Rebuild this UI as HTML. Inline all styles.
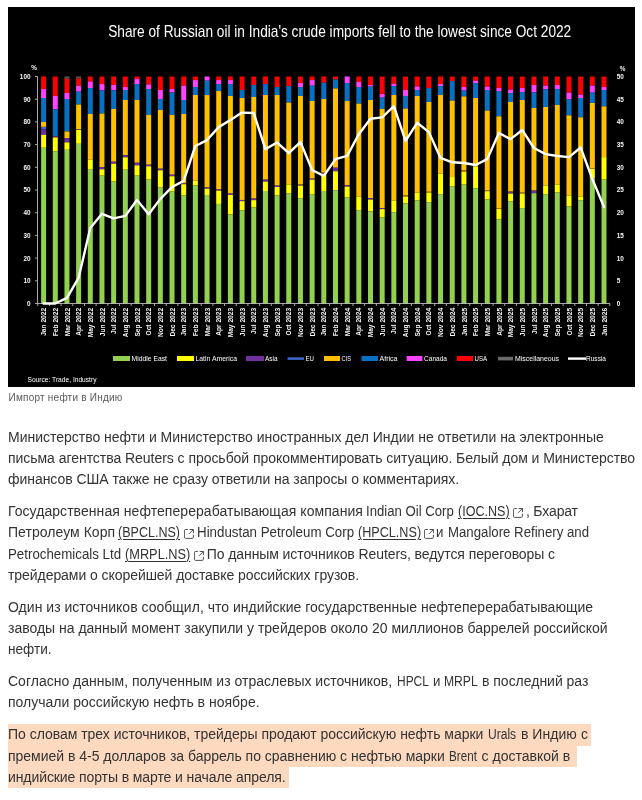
<!DOCTYPE html>
<html lang="ru">
<head>
<meta charset="utf-8">
<title>Импорт нефти в Индию</title>
<style>
html,body{margin:0;padding:0;background:#fff;}
body{width:642px;height:800px;overflow:hidden;position:relative;font-family:"Liberation Sans",sans-serif;color:#2a2a2a;}
.cap{position:absolute;left:8.6px;top:391px;font-size:10px;letter-spacing:0.22px;color:#5a5a5a;line-height:14px;white-space:nowrap;}
.s{position:absolute;font-size:14px;line-height:21.4px;white-space:nowrap;color:#333;text-decoration:none;transform-origin:0 50%;}
.a{text-decoration:underline;text-underline-offset:2px;text-decoration-thickness:1px;}
.hlb{position:absolute;background:#fcd9bf;}
.ext{position:absolute;display:block;}
</style>
</head>
<body>
<svg width="627" height="380" viewBox="8 7 627 380" style="position:absolute;left:8px;top:7px;display:block">
<rect x="8" y="7" width="627" height="380" fill="#000"/>
<rect x="41.10" y="76.50" width="5.00" height="12.54" fill="#fa0000"/>
<rect x="41.10" y="89.04" width="5.00" height="8.96" fill="#ff44ff"/>
<rect x="41.10" y="98.01" width="5.00" height="23.89" fill="#0870c0"/>
<rect x="41.10" y="121.90" width="5.00" height="4.98" fill="#ffc000"/>
<rect x="41.10" y="126.88" width="5.00" height="2.39" fill="#3a66c8"/>
<rect x="41.10" y="129.27" width="5.00" height="5.58" fill="#7030a0"/>
<rect x="41.10" y="134.84" width="5.00" height="12.94" fill="#ffff00"/>
<rect x="41.10" y="147.79" width="5.00" height="155.71" fill="#92d050"/>
<rect x="52.78" y="76.50" width="5.00" height="19.51" fill="#fa0000"/>
<rect x="52.78" y="96.01" width="5.00" height="13.34" fill="#ff44ff"/>
<rect x="52.78" y="109.36" width="5.00" height="26.88" fill="#0870c0"/>
<rect x="52.78" y="136.24" width="5.00" height="1.19" fill="#7030a0"/>
<rect x="52.78" y="137.43" width="5.00" height="13.74" fill="#ffff00"/>
<rect x="52.78" y="151.17" width="5.00" height="152.33" fill="#92d050"/>
<rect x="64.45" y="76.50" width="5.00" height="2.19" fill="#5a5a5a"/>
<rect x="64.45" y="78.69" width="5.00" height="14.34" fill="#fa0000"/>
<rect x="64.45" y="93.03" width="5.00" height="5.97" fill="#ff44ff"/>
<rect x="64.45" y="99.00" width="5.00" height="32.46" fill="#0870c0"/>
<rect x="64.45" y="131.46" width="5.00" height="6.77" fill="#ffc000"/>
<rect x="64.45" y="138.23" width="5.00" height="4.18" fill="#7030a0"/>
<rect x="64.45" y="142.41" width="5.00" height="7.37" fill="#ffff00"/>
<rect x="64.45" y="149.78" width="5.00" height="153.72" fill="#92d050"/>
<rect x="76.12" y="76.50" width="5.00" height="1.79" fill="#5a5a5a"/>
<rect x="76.12" y="78.29" width="5.00" height="7.37" fill="#fa0000"/>
<rect x="76.12" y="85.66" width="5.00" height="5.97" fill="#ff44ff"/>
<rect x="76.12" y="91.63" width="5.00" height="12.94" fill="#0870c0"/>
<rect x="76.12" y="104.58" width="5.00" height="24.49" fill="#ffc000"/>
<rect x="76.12" y="129.07" width="5.00" height="0.80" fill="#7030a0"/>
<rect x="76.12" y="129.86" width="5.00" height="13.94" fill="#ffff00"/>
<rect x="76.12" y="143.80" width="5.00" height="159.70" fill="#92d050"/>
<rect x="87.80" y="76.50" width="5.00" height="4.98" fill="#fa0000"/>
<rect x="87.80" y="81.48" width="5.00" height="6.57" fill="#ff44ff"/>
<rect x="87.80" y="88.05" width="5.00" height="25.89" fill="#0870c0"/>
<rect x="87.80" y="113.94" width="5.00" height="45.80" fill="#ffc000"/>
<rect x="87.80" y="159.73" width="5.00" height="9.36" fill="#ffff00"/>
<rect x="87.80" y="169.09" width="5.00" height="134.41" fill="#92d050"/>
<rect x="99.47" y="76.50" width="5.00" height="7.57" fill="#fa0000"/>
<rect x="99.47" y="84.07" width="5.00" height="6.37" fill="#ff44ff"/>
<rect x="99.47" y="90.44" width="5.00" height="23.10" fill="#0870c0"/>
<rect x="99.47" y="113.54" width="5.00" height="53.56" fill="#ffc000"/>
<rect x="99.47" y="167.10" width="5.00" height="2.19" fill="#7030a0"/>
<rect x="99.47" y="169.29" width="5.00" height="6.37" fill="#ffff00"/>
<rect x="99.47" y="175.66" width="5.00" height="127.84" fill="#92d050"/>
<rect x="111.15" y="76.50" width="5.00" height="8.56" fill="#fa0000"/>
<rect x="111.15" y="85.06" width="5.00" height="5.38" fill="#ff44ff"/>
<rect x="111.15" y="90.44" width="5.00" height="18.52" fill="#0870c0"/>
<rect x="111.15" y="108.96" width="5.00" height="52.77" fill="#ffc000"/>
<rect x="111.15" y="161.72" width="5.00" height="1.99" fill="#7030a0"/>
<rect x="111.15" y="163.72" width="5.00" height="17.92" fill="#ffff00"/>
<rect x="111.15" y="181.64" width="5.00" height="121.86" fill="#92d050"/>
<rect x="122.83" y="76.50" width="5.00" height="10.55" fill="#fa0000"/>
<rect x="122.83" y="87.05" width="5.00" height="2.99" fill="#ff44ff"/>
<rect x="122.83" y="90.04" width="5.00" height="9.96" fill="#0870c0"/>
<rect x="122.83" y="100.00" width="5.00" height="55.16" fill="#ffc000"/>
<rect x="122.83" y="155.15" width="5.00" height="2.19" fill="#7030a0"/>
<rect x="122.83" y="157.34" width="5.00" height="12.35" fill="#ffff00"/>
<rect x="122.83" y="169.69" width="5.00" height="133.81" fill="#92d050"/>
<rect x="134.50" y="76.50" width="5.00" height="2.59" fill="#fa0000"/>
<rect x="134.50" y="79.09" width="5.00" height="4.98" fill="#ff44ff"/>
<rect x="134.50" y="84.07" width="5.00" height="15.93" fill="#0870c0"/>
<rect x="134.50" y="100.00" width="5.00" height="62.72" fill="#ffc000"/>
<rect x="134.50" y="162.72" width="5.00" height="2.59" fill="#7030a0"/>
<rect x="134.50" y="165.31" width="5.00" height="10.35" fill="#ffff00"/>
<rect x="134.50" y="175.66" width="5.00" height="127.84" fill="#92d050"/>
<rect x="146.18" y="76.50" width="5.00" height="7.96" fill="#fa0000"/>
<rect x="146.18" y="84.46" width="5.00" height="4.58" fill="#ff44ff"/>
<rect x="146.18" y="89.04" width="5.00" height="25.89" fill="#0870c0"/>
<rect x="146.18" y="114.93" width="5.00" height="49.78" fill="#ffc000"/>
<rect x="146.18" y="164.71" width="5.00" height="1.59" fill="#7030a0"/>
<rect x="146.18" y="166.30" width="5.00" height="13.34" fill="#ffff00"/>
<rect x="146.18" y="179.65" width="5.00" height="123.85" fill="#92d050"/>
<rect x="157.85" y="76.50" width="5.00" height="13.54" fill="#fa0000"/>
<rect x="157.85" y="90.04" width="5.00" height="8.96" fill="#ff44ff"/>
<rect x="157.85" y="99.00" width="5.00" height="10.95" fill="#0870c0"/>
<rect x="157.85" y="109.95" width="5.00" height="58.74" fill="#ffc000"/>
<rect x="157.85" y="168.69" width="5.00" height="1.59" fill="#7030a0"/>
<rect x="157.85" y="170.29" width="5.00" height="17.32" fill="#ffff00"/>
<rect x="157.85" y="187.61" width="5.00" height="115.89" fill="#92d050"/>
<rect x="169.53" y="76.50" width="5.00" height="12.54" fill="#fa0000"/>
<rect x="169.53" y="89.04" width="5.00" height="3.39" fill="#ff44ff"/>
<rect x="169.53" y="92.43" width="5.00" height="22.50" fill="#0870c0"/>
<rect x="169.53" y="114.93" width="5.00" height="59.74" fill="#ffc000"/>
<rect x="169.53" y="174.67" width="5.00" height="1.59" fill="#7030a0"/>
<rect x="169.53" y="176.26" width="5.00" height="15.33" fill="#ffff00"/>
<rect x="169.53" y="191.59" width="5.00" height="111.91" fill="#92d050"/>
<rect x="181.20" y="76.50" width="5.00" height="9.16" fill="#fa0000"/>
<rect x="181.20" y="85.66" width="5.00" height="14.34" fill="#ff44ff"/>
<rect x="181.20" y="100.00" width="5.00" height="13.94" fill="#0870c0"/>
<rect x="181.20" y="113.94" width="5.00" height="69.49" fill="#ffc000"/>
<rect x="181.20" y="183.43" width="5.00" height="0.80" fill="#7030a0"/>
<rect x="181.20" y="184.23" width="5.00" height="11.35" fill="#ffff00"/>
<rect x="181.20" y="195.58" width="5.00" height="107.92" fill="#92d050"/>
<rect x="192.88" y="76.50" width="5.00" height="3.58" fill="#fa0000"/>
<rect x="192.88" y="80.08" width="5.00" height="6.97" fill="#ff44ff"/>
<rect x="192.88" y="87.05" width="5.00" height="7.96" fill="#0870c0"/>
<rect x="192.88" y="95.02" width="5.00" height="85.62" fill="#ffc000"/>
<rect x="192.88" y="180.64" width="5.00" height="4.98" fill="#ffff00"/>
<rect x="192.88" y="185.62" width="5.00" height="117.88" fill="#92d050"/>
<rect x="204.55" y="76.50" width="5.00" height="4.18" fill="#ff44ff"/>
<rect x="204.55" y="80.68" width="5.00" height="14.34" fill="#0870c0"/>
<rect x="204.55" y="95.02" width="5.00" height="92.39" fill="#ffc000"/>
<rect x="204.55" y="187.41" width="5.00" height="1.19" fill="#7030a0"/>
<rect x="204.55" y="188.61" width="5.00" height="6.37" fill="#ffff00"/>
<rect x="204.55" y="194.98" width="5.00" height="108.52" fill="#92d050"/>
<rect x="216.22" y="76.50" width="5.00" height="3.58" fill="#fa0000"/>
<rect x="216.22" y="80.08" width="5.00" height="3.98" fill="#ff44ff"/>
<rect x="216.22" y="84.07" width="5.00" height="6.97" fill="#0870c0"/>
<rect x="216.22" y="91.04" width="5.00" height="98.37" fill="#ffc000"/>
<rect x="216.22" y="189.40" width="5.00" height="1.19" fill="#7030a0"/>
<rect x="216.22" y="190.60" width="5.00" height="13.34" fill="#ffff00"/>
<rect x="216.22" y="203.94" width="5.00" height="99.56" fill="#92d050"/>
<rect x="227.90" y="76.50" width="5.00" height="3.58" fill="#fa0000"/>
<rect x="227.90" y="80.08" width="5.00" height="3.98" fill="#ff44ff"/>
<rect x="227.90" y="84.07" width="5.00" height="11.95" fill="#0870c0"/>
<rect x="227.90" y="96.01" width="5.00" height="97.57" fill="#ffc000"/>
<rect x="227.90" y="193.58" width="5.00" height="1.39" fill="#7030a0"/>
<rect x="227.90" y="194.98" width="5.00" height="19.51" fill="#ffff00"/>
<rect x="227.90" y="214.49" width="5.00" height="89.01" fill="#92d050"/>
<rect x="239.58" y="76.50" width="5.00" height="13.54" fill="#fa0000"/>
<rect x="239.58" y="90.04" width="5.00" height="7.96" fill="#0870c0"/>
<rect x="239.58" y="98.01" width="5.00" height="101.95" fill="#ffc000"/>
<rect x="239.58" y="199.96" width="5.00" height="1.19" fill="#7030a0"/>
<rect x="239.58" y="201.15" width="5.00" height="9.36" fill="#ffff00"/>
<rect x="239.58" y="210.51" width="5.00" height="92.99" fill="#92d050"/>
<rect x="251.25" y="76.50" width="5.00" height="8.56" fill="#fa0000"/>
<rect x="251.25" y="85.06" width="5.00" height="11.95" fill="#0870c0"/>
<rect x="251.25" y="97.01" width="5.00" height="101.55" fill="#ffc000"/>
<rect x="251.25" y="198.56" width="5.00" height="1.59" fill="#7030a0"/>
<rect x="251.25" y="200.16" width="5.00" height="7.37" fill="#ffff00"/>
<rect x="251.25" y="207.52" width="5.00" height="95.98" fill="#92d050"/>
<rect x="262.93" y="76.50" width="5.00" height="7.57" fill="#fa0000"/>
<rect x="262.93" y="84.07" width="5.00" height="10.95" fill="#0870c0"/>
<rect x="262.93" y="95.02" width="5.00" height="84.63" fill="#ffc000"/>
<rect x="262.93" y="179.65" width="5.00" height="1.99" fill="#7030a0"/>
<rect x="262.93" y="181.64" width="5.00" height="9.36" fill="#ffff00"/>
<rect x="262.93" y="191.00" width="5.00" height="112.50" fill="#92d050"/>
<rect x="274.60" y="76.50" width="5.00" height="10.55" fill="#fa0000"/>
<rect x="274.60" y="87.05" width="5.00" height="7.96" fill="#0870c0"/>
<rect x="274.60" y="95.02" width="5.00" height="90.60" fill="#ffc000"/>
<rect x="274.60" y="185.62" width="5.00" height="1.39" fill="#7030a0"/>
<rect x="274.60" y="187.01" width="5.00" height="8.56" fill="#ffff00"/>
<rect x="274.60" y="195.58" width="5.00" height="107.92" fill="#92d050"/>
<rect x="286.28" y="76.50" width="5.00" height="9.56" fill="#fa0000"/>
<rect x="286.28" y="86.06" width="5.00" height="16.53" fill="#0870c0"/>
<rect x="286.28" y="102.59" width="5.00" height="82.04" fill="#ffc000"/>
<rect x="286.28" y="184.62" width="5.00" height="8.96" fill="#ffff00"/>
<rect x="286.28" y="193.58" width="5.00" height="109.92" fill="#92d050"/>
<rect x="297.95" y="76.50" width="5.00" height="6.57" fill="#fa0000"/>
<rect x="297.95" y="83.07" width="5.00" height="3.98" fill="#ff44ff"/>
<rect x="297.95" y="87.05" width="5.00" height="8.96" fill="#0870c0"/>
<rect x="297.95" y="96.01" width="5.00" height="88.61" fill="#ffc000"/>
<rect x="297.95" y="184.62" width="5.00" height="1.00" fill="#7030a0"/>
<rect x="297.95" y="185.62" width="5.00" height="12.54" fill="#ffff00"/>
<rect x="297.95" y="198.16" width="5.00" height="105.34" fill="#92d050"/>
<rect x="309.63" y="76.50" width="5.00" height="3.58" fill="#fa0000"/>
<rect x="309.63" y="80.08" width="5.00" height="5.58" fill="#ff44ff"/>
<rect x="309.63" y="85.66" width="5.00" height="15.33" fill="#0870c0"/>
<rect x="309.63" y="100.99" width="5.00" height="77.66" fill="#ffc000"/>
<rect x="309.63" y="178.65" width="5.00" height="1.00" fill="#7030a0"/>
<rect x="309.63" y="179.65" width="5.00" height="14.93" fill="#ffff00"/>
<rect x="309.63" y="194.58" width="5.00" height="108.92" fill="#92d050"/>
<rect x="321.30" y="76.50" width="5.00" height="6.17" fill="#fa0000"/>
<rect x="321.30" y="82.67" width="5.00" height="16.33" fill="#0870c0"/>
<rect x="321.30" y="99.00" width="5.00" height="73.68" fill="#ffc000"/>
<rect x="321.30" y="172.68" width="5.00" height="1.19" fill="#7030a0"/>
<rect x="321.30" y="173.87" width="5.00" height="17.12" fill="#ffff00"/>
<rect x="321.30" y="191.00" width="5.00" height="112.50" fill="#92d050"/>
<rect x="332.98" y="76.50" width="5.00" height="2.99" fill="#fa0000"/>
<rect x="332.98" y="79.49" width="5.00" height="8.96" fill="#0870c0"/>
<rect x="332.98" y="88.45" width="5.00" height="79.25" fill="#ffc000"/>
<rect x="332.98" y="167.70" width="5.00" height="3.58" fill="#7030a0"/>
<rect x="332.98" y="171.28" width="5.00" height="18.92" fill="#ffff00"/>
<rect x="332.98" y="190.20" width="5.00" height="113.30" fill="#92d050"/>
<rect x="344.65" y="76.50" width="5.00" height="6.57" fill="#ff44ff"/>
<rect x="344.65" y="83.07" width="5.00" height="17.92" fill="#0870c0"/>
<rect x="344.65" y="100.99" width="5.00" height="84.23" fill="#ffc000"/>
<rect x="344.65" y="185.22" width="5.00" height="1.39" fill="#7030a0"/>
<rect x="344.65" y="186.61" width="5.00" height="10.95" fill="#ffff00"/>
<rect x="344.65" y="197.57" width="5.00" height="105.93" fill="#92d050"/>
<rect x="356.33" y="76.50" width="5.00" height="5.58" fill="#fa0000"/>
<rect x="356.33" y="82.08" width="5.00" height="4.98" fill="#ff44ff"/>
<rect x="356.33" y="87.05" width="5.00" height="16.53" fill="#0870c0"/>
<rect x="356.33" y="103.58" width="5.00" height="92.99" fill="#ffc000"/>
<rect x="356.33" y="196.57" width="5.00" height="13.54" fill="#ffff00"/>
<rect x="356.33" y="210.11" width="5.00" height="93.39" fill="#92d050"/>
<rect x="368.00" y="76.50" width="5.00" height="8.56" fill="#fa0000"/>
<rect x="368.00" y="85.06" width="5.00" height="1.59" fill="#ff44ff"/>
<rect x="368.00" y="86.66" width="5.00" height="13.34" fill="#0870c0"/>
<rect x="368.00" y="100.00" width="5.00" height="98.17" fill="#ffc000"/>
<rect x="368.00" y="198.16" width="5.00" height="1.39" fill="#7030a0"/>
<rect x="368.00" y="199.56" width="5.00" height="11.95" fill="#ffff00"/>
<rect x="368.00" y="211.51" width="5.00" height="91.99" fill="#92d050"/>
<rect x="379.68" y="76.50" width="5.00" height="17.52" fill="#fa0000"/>
<rect x="379.68" y="94.02" width="5.00" height="3.58" fill="#ff44ff"/>
<rect x="379.68" y="97.61" width="5.00" height="11.35" fill="#0870c0"/>
<rect x="379.68" y="108.96" width="5.00" height="99.16" fill="#ffc000"/>
<rect x="379.68" y="208.12" width="5.00" height="1.00" fill="#7030a0"/>
<rect x="379.68" y="209.12" width="5.00" height="8.36" fill="#ffff00"/>
<rect x="379.68" y="217.48" width="5.00" height="86.02" fill="#92d050"/>
<rect x="391.35" y="76.50" width="5.00" height="7.17" fill="#fa0000"/>
<rect x="391.35" y="83.67" width="5.00" height="2.39" fill="#ff44ff"/>
<rect x="391.35" y="86.06" width="5.00" height="8.96" fill="#0870c0"/>
<rect x="391.35" y="95.02" width="5.00" height="105.54" fill="#ffc000"/>
<rect x="391.35" y="200.55" width="5.00" height="11.55" fill="#ffff00"/>
<rect x="391.35" y="212.10" width="5.00" height="91.40" fill="#92d050"/>
<rect x="403.03" y="76.50" width="5.00" height="13.54" fill="#fa0000"/>
<rect x="403.03" y="90.04" width="5.00" height="5.97" fill="#ff44ff"/>
<rect x="403.03" y="96.01" width="5.00" height="12.54" fill="#0870c0"/>
<rect x="403.03" y="108.56" width="5.00" height="86.82" fill="#ffc000"/>
<rect x="403.03" y="195.38" width="5.00" height="1.19" fill="#d07810"/>
<rect x="403.03" y="196.57" width="5.00" height="6.97" fill="#ffff00"/>
<rect x="403.03" y="203.54" width="5.00" height="99.96" fill="#92d050"/>
<rect x="414.70" y="76.50" width="5.00" height="9.96" fill="#fa0000"/>
<rect x="414.70" y="86.46" width="5.00" height="3.58" fill="#ff44ff"/>
<rect x="414.70" y="90.04" width="5.00" height="5.97" fill="#0870c0"/>
<rect x="414.70" y="96.01" width="5.00" height="96.57" fill="#ffc000"/>
<rect x="414.70" y="192.59" width="5.00" height="7.96" fill="#ffff00"/>
<rect x="414.70" y="200.55" width="5.00" height="102.95" fill="#92d050"/>
<rect x="426.38" y="76.50" width="5.00" height="11.55" fill="#fa0000"/>
<rect x="426.38" y="88.05" width="5.00" height="13.94" fill="#0870c0"/>
<rect x="426.38" y="101.99" width="5.00" height="89.80" fill="#ffc000"/>
<rect x="426.38" y="191.79" width="5.00" height="0.80" fill="#d07810"/>
<rect x="426.38" y="192.59" width="5.00" height="9.56" fill="#ffff00"/>
<rect x="426.38" y="202.15" width="5.00" height="101.35" fill="#92d050"/>
<rect x="438.05" y="76.50" width="5.00" height="7.57" fill="#fa0000"/>
<rect x="438.05" y="84.07" width="5.00" height="1.99" fill="#ff44ff"/>
<rect x="438.05" y="86.06" width="5.00" height="8.96" fill="#0870c0"/>
<rect x="438.05" y="95.02" width="5.00" height="78.65" fill="#ffc000"/>
<rect x="438.05" y="173.67" width="5.00" height="20.51" fill="#ffff00"/>
<rect x="438.05" y="194.18" width="5.00" height="109.32" fill="#92d050"/>
<rect x="449.73" y="76.50" width="5.00" height="4.58" fill="#fa0000"/>
<rect x="449.73" y="81.08" width="5.00" height="19.51" fill="#0870c0"/>
<rect x="449.73" y="100.59" width="5.00" height="76.46" fill="#ffc000"/>
<rect x="449.73" y="177.06" width="5.00" height="9.56" fill="#ffff00"/>
<rect x="449.73" y="186.61" width="5.00" height="116.89" fill="#92d050"/>
<rect x="461.40" y="76.50" width="5.00" height="10.55" fill="#fa0000"/>
<rect x="461.40" y="87.05" width="5.00" height="3.58" fill="#ff44ff"/>
<rect x="461.40" y="90.64" width="5.00" height="5.77" fill="#0870c0"/>
<rect x="461.40" y="96.41" width="5.00" height="74.07" fill="#ffc000"/>
<rect x="461.40" y="170.49" width="5.00" height="1.19" fill="#d07810"/>
<rect x="461.40" y="171.68" width="5.00" height="12.94" fill="#ffff00"/>
<rect x="461.40" y="184.62" width="5.00" height="118.88" fill="#92d050"/>
<rect x="473.08" y="76.50" width="5.00" height="4.18" fill="#fa0000"/>
<rect x="473.08" y="80.68" width="5.00" height="2.39" fill="#ff44ff"/>
<rect x="473.08" y="83.07" width="5.00" height="14.93" fill="#0870c0"/>
<rect x="473.08" y="98.01" width="5.00" height="68.70" fill="#ffc000"/>
<rect x="473.08" y="166.70" width="5.00" height="21.51" fill="#ffff00"/>
<rect x="473.08" y="188.21" width="5.00" height="115.29" fill="#92d050"/>
<rect x="484.75" y="76.50" width="5.00" height="10.16" fill="#fa0000"/>
<rect x="484.75" y="86.66" width="5.00" height="3.39" fill="#ff44ff"/>
<rect x="484.75" y="90.04" width="5.00" height="20.51" fill="#0870c0"/>
<rect x="484.75" y="110.55" width="5.00" height="79.85" fill="#ffc000"/>
<rect x="484.75" y="190.40" width="5.00" height="0.80" fill="#d07810"/>
<rect x="484.75" y="191.19" width="5.00" height="8.36" fill="#ffff00"/>
<rect x="484.75" y="199.56" width="5.00" height="103.94" fill="#92d050"/>
<rect x="496.43" y="76.50" width="5.00" height="11.55" fill="#fa0000"/>
<rect x="496.43" y="88.05" width="5.00" height="2.99" fill="#ff44ff"/>
<rect x="496.43" y="91.04" width="5.00" height="25.29" fill="#0870c0"/>
<rect x="496.43" y="116.32" width="5.00" height="91.80" fill="#ffc000"/>
<rect x="496.43" y="208.12" width="5.00" height="0.80" fill="#d07810"/>
<rect x="496.43" y="208.92" width="5.00" height="10.55" fill="#ffff00"/>
<rect x="496.43" y="219.47" width="5.00" height="84.03" fill="#92d050"/>
<rect x="508.10" y="76.50" width="5.00" height="13.14" fill="#fa0000"/>
<rect x="508.10" y="89.64" width="5.00" height="3.39" fill="#ff44ff"/>
<rect x="508.10" y="93.03" width="5.00" height="8.96" fill="#0870c0"/>
<rect x="508.10" y="101.99" width="5.00" height="89.61" fill="#ffc000"/>
<rect x="508.10" y="191.59" width="5.00" height="1.99" fill="#7030a0"/>
<rect x="508.10" y="193.58" width="5.00" height="7.96" fill="#ffff00"/>
<rect x="508.10" y="201.55" width="5.00" height="101.95" fill="#92d050"/>
<rect x="519.77" y="76.50" width="5.00" height="11.55" fill="#fa0000"/>
<rect x="519.77" y="88.05" width="5.00" height="3.98" fill="#ff44ff"/>
<rect x="519.77" y="92.03" width="5.00" height="7.96" fill="#0870c0"/>
<rect x="519.77" y="100.00" width="5.00" height="92.59" fill="#ffc000"/>
<rect x="519.77" y="192.59" width="5.00" height="1.00" fill="#d07810"/>
<rect x="519.77" y="193.58" width="5.00" height="14.54" fill="#ffff00"/>
<rect x="519.77" y="208.12" width="5.00" height="95.38" fill="#92d050"/>
<rect x="531.45" y="76.50" width="5.00" height="8.56" fill="#fa0000"/>
<rect x="531.45" y="85.06" width="5.00" height="7.37" fill="#ff44ff"/>
<rect x="531.45" y="92.43" width="5.00" height="15.53" fill="#0870c0"/>
<rect x="531.45" y="107.96" width="5.00" height="82.64" fill="#ffc000"/>
<rect x="531.45" y="190.60" width="5.00" height="2.59" fill="#7030a0"/>
<rect x="531.45" y="193.19" width="5.00" height="110.31" fill="#92d050"/>
<rect x="543.12" y="76.50" width="5.00" height="9.16" fill="#fa0000"/>
<rect x="543.12" y="85.66" width="5.00" height="3.78" fill="#ff44ff"/>
<rect x="543.12" y="89.44" width="5.00" height="17.52" fill="#0870c0"/>
<rect x="543.12" y="106.97" width="5.00" height="78.65" fill="#ffc000"/>
<rect x="543.12" y="185.62" width="5.00" height="8.56" fill="#ffff00"/>
<rect x="543.12" y="194.18" width="5.00" height="109.32" fill="#92d050"/>
<rect x="554.80" y="76.50" width="5.00" height="8.56" fill="#fa0000"/>
<rect x="554.80" y="85.06" width="5.00" height="3.98" fill="#ff44ff"/>
<rect x="554.80" y="89.04" width="5.00" height="15.93" fill="#0870c0"/>
<rect x="554.80" y="104.97" width="5.00" height="79.65" fill="#ffc000"/>
<rect x="554.80" y="184.62" width="5.00" height="7.96" fill="#ffff00"/>
<rect x="554.80" y="192.59" width="5.00" height="110.91" fill="#92d050"/>
<rect x="566.48" y="76.50" width="5.00" height="16.13" fill="#fa0000"/>
<rect x="566.48" y="92.63" width="5.00" height="6.77" fill="#ff44ff"/>
<rect x="566.48" y="99.40" width="5.00" height="15.93" fill="#0870c0"/>
<rect x="566.48" y="115.33" width="5.00" height="80.25" fill="#ffc000"/>
<rect x="566.48" y="195.58" width="5.00" height="10.95" fill="#ffff00"/>
<rect x="566.48" y="206.53" width="5.00" height="96.97" fill="#92d050"/>
<rect x="578.15" y="76.50" width="5.00" height="18.12" fill="#fa0000"/>
<rect x="578.15" y="94.62" width="5.00" height="3.39" fill="#ff44ff"/>
<rect x="578.15" y="98.01" width="5.00" height="19.31" fill="#0870c0"/>
<rect x="578.15" y="117.32" width="5.00" height="79.25" fill="#ffc000"/>
<rect x="578.15" y="196.57" width="5.00" height="3.58" fill="#ffff00"/>
<rect x="578.15" y="200.16" width="5.00" height="103.34" fill="#92d050"/>
<rect x="589.83" y="76.50" width="5.00" height="9.16" fill="#fa0000"/>
<rect x="589.83" y="85.66" width="5.00" height="6.97" fill="#ff44ff"/>
<rect x="589.83" y="92.63" width="5.00" height="10.35" fill="#0870c0"/>
<rect x="589.83" y="102.98" width="5.00" height="65.11" fill="#ffc000"/>
<rect x="589.83" y="168.10" width="5.00" height="0.80" fill="#d07810"/>
<rect x="589.83" y="168.89" width="5.00" height="9.76" fill="#ffff00"/>
<rect x="589.83" y="178.65" width="5.00" height="124.85" fill="#92d050"/>
<rect x="601.50" y="76.50" width="5.00" height="10.55" fill="#fa0000"/>
<rect x="601.50" y="87.05" width="5.00" height="2.99" fill="#ff44ff"/>
<rect x="601.50" y="90.04" width="5.00" height="16.33" fill="#0870c0"/>
<rect x="601.50" y="106.37" width="5.00" height="50.78" fill="#ffc000"/>
<rect x="601.50" y="157.14" width="5.00" height="22.50" fill="#ffff00"/>
<rect x="601.50" y="179.65" width="5.00" height="123.85" fill="#92d050"/>
<g stroke="#d0d0d0" stroke-width="0.8" fill="none">
<path d="M37.5 76.50 V303.50 H610"/>
<path d="M35 303.50 H37.5"/>
<path d="M35 280.80 H37.5"/>
<path d="M35 258.10 H37.5"/>
<path d="M35 235.40 H37.5"/>
<path d="M35 212.70 H37.5"/>
<path d="M35 190.00 H37.5"/>
<path d="M35 167.30 H37.5"/>
<path d="M35 144.60 H37.5"/>
<path d="M35 121.90 H37.5"/>
<path d="M35 99.20 H37.5"/>
<path d="M35 76.50 H37.5"/>
<path d="M37.76 303.50 v2.5"/>
<path d="M49.44 303.50 v2.5"/>
<path d="M61.11 303.50 v2.5"/>
<path d="M72.79 303.50 v2.5"/>
<path d="M84.46 303.50 v2.5"/>
<path d="M96.14 303.50 v2.5"/>
<path d="M107.81 303.50 v2.5"/>
<path d="M119.49 303.50 v2.5"/>
<path d="M131.16 303.50 v2.5"/>
<path d="M142.84 303.50 v2.5"/>
<path d="M154.51 303.50 v2.5"/>
<path d="M166.19 303.50 v2.5"/>
<path d="M177.86 303.50 v2.5"/>
<path d="M189.54 303.50 v2.5"/>
<path d="M201.21 303.50 v2.5"/>
<path d="M212.89 303.50 v2.5"/>
<path d="M224.56 303.50 v2.5"/>
<path d="M236.24 303.50 v2.5"/>
<path d="M247.91 303.50 v2.5"/>
<path d="M259.59 303.50 v2.5"/>
<path d="M271.26 303.50 v2.5"/>
<path d="M282.94 303.50 v2.5"/>
<path d="M294.61 303.50 v2.5"/>
<path d="M306.29 303.50 v2.5"/>
<path d="M317.96 303.50 v2.5"/>
<path d="M329.64 303.50 v2.5"/>
<path d="M341.31 303.50 v2.5"/>
<path d="M352.99 303.50 v2.5"/>
<path d="M364.66 303.50 v2.5"/>
<path d="M376.34 303.50 v2.5"/>
<path d="M388.01 303.50 v2.5"/>
<path d="M399.69 303.50 v2.5"/>
<path d="M411.36 303.50 v2.5"/>
<path d="M423.04 303.50 v2.5"/>
<path d="M434.71 303.50 v2.5"/>
<path d="M446.39 303.50 v2.5"/>
<path d="M458.06 303.50 v2.5"/>
<path d="M469.74 303.50 v2.5"/>
<path d="M481.41 303.50 v2.5"/>
<path d="M493.09 303.50 v2.5"/>
<path d="M504.76 303.50 v2.5"/>
<path d="M516.44 303.50 v2.5"/>
<path d="M528.11 303.50 v2.5"/>
<path d="M539.79 303.50 v2.5"/>
<path d="M551.46 303.50 v2.5"/>
<path d="M563.14 303.50 v2.5"/>
<path d="M574.81 303.50 v2.5"/>
<path d="M586.49 303.50 v2.5"/>
<path d="M598.16 303.50 v2.5"/>
<path d="M609.84 303.50 v2.5"/>
</g>
<path d="M43.60 303.50 L55.28 303.50 L66.95 297.82 L78.62 277.85 L90.30 227.91 L101.97 213.83 L113.65 218.38 L125.33 215.88 L137.00 199.99 L148.68 214.29 L160.35 198.85 L172.03 187.05 L183.70 180.92 L195.38 145.96 L207.05 140.06 L218.72 127.12 L230.40 120.08 L242.08 112.59 L253.75 113.05 L265.43 149.14 L277.10 142.56 L288.78 153.00 L300.45 142.10 L312.13 170.02 L323.80 175.93 L335.48 159.13 L347.15 155.95 L358.83 134.16 L370.50 118.72 L382.18 117.36 L393.85 106.24 L405.53 140.97 L417.20 122.81 L428.88 132.12 L440.55 157.99 L452.23 162.31 L463.90 162.99 L475.58 165.03 L487.25 159.13 L498.93 133.02 L510.60 139.15 L522.27 130.07 L533.95 148.00 L545.62 154.13 L557.30 155.95 L568.98 157.09 L580.65 147.55 L592.33 178.88 L604.00 207.03" fill="none" stroke="#fff" stroke-width="2.4" stroke-linejoin="round" stroke-linecap="round"/>
<g font-family="'Liberation Sans',sans-serif" font-size="6.4" font-weight="bold" fill="#f4f4f4">
<text x="30.5" y="305.90" text-anchor="end">0</text>
<text x="30.5" y="283.20" text-anchor="end">10</text>
<text x="30.5" y="260.50" text-anchor="end">20</text>
<text x="30.5" y="237.80" text-anchor="end">30</text>
<text x="30.5" y="215.10" text-anchor="end">40</text>
<text x="30.5" y="192.40" text-anchor="end">50</text>
<text x="30.5" y="169.70" text-anchor="end">60</text>
<text x="30.5" y="147.00" text-anchor="end">70</text>
<text x="30.5" y="124.30" text-anchor="end">80</text>
<text x="30.5" y="101.60" text-anchor="end">90</text>
<text x="30.5" y="78.90" text-anchor="end">100</text>
<text x="37" y="70.2" text-anchor="end">%</text>
<text x="616.8" y="305.90">0</text>
<text x="616.8" y="283.20">5</text>
<text x="616.8" y="260.50">10</text>
<text x="616.8" y="237.80">15</text>
<text x="616.8" y="215.10">20</text>
<text x="616.8" y="192.40">25</text>
<text x="616.8" y="169.70">30</text>
<text x="616.8" y="147.00">35</text>
<text x="616.8" y="124.30">40</text>
<text x="616.8" y="101.60">45</text>
<text x="616.8" y="78.90">50</text>
<text x="625.5" y="71" text-anchor="end">%</text>
<text transform="translate(46.20 307.9) rotate(-90) scale(0.92 1)" text-anchor="end" font-size="7.2">Jan 2022</text>
<text transform="translate(57.88 307.9) rotate(-90) scale(0.92 1)" text-anchor="end" font-size="7.2">Feb 2022</text>
<text transform="translate(69.55 307.9) rotate(-90) scale(0.92 1)" text-anchor="end" font-size="7.2">Mar 2022</text>
<text transform="translate(81.23 307.9) rotate(-90) scale(0.92 1)" text-anchor="end" font-size="7.2">Apr 2022</text>
<text transform="translate(92.90 307.9) rotate(-90) scale(0.92 1)" text-anchor="end" font-size="7.2">May 2022</text>
<text transform="translate(104.58 307.9) rotate(-90) scale(0.92 1)" text-anchor="end" font-size="7.2">Jun 2022</text>
<text transform="translate(116.25 307.9) rotate(-90) scale(0.92 1)" text-anchor="end" font-size="7.2">Jul 2022</text>
<text transform="translate(127.93 307.9) rotate(-90) scale(0.92 1)" text-anchor="end" font-size="7.2">Aug 2022</text>
<text transform="translate(139.60 307.9) rotate(-90) scale(0.92 1)" text-anchor="end" font-size="7.2">Sep 2022</text>
<text transform="translate(151.28 307.9) rotate(-90) scale(0.92 1)" text-anchor="end" font-size="7.2">Oct 2022</text>
<text transform="translate(162.95 307.9) rotate(-90) scale(0.92 1)" text-anchor="end" font-size="7.2">Nov 2022</text>
<text transform="translate(174.62 307.9) rotate(-90) scale(0.92 1)" text-anchor="end" font-size="7.2">Dec 2022</text>
<text transform="translate(186.30 307.9) rotate(-90) scale(0.92 1)" text-anchor="end" font-size="7.2">Jan 2023</text>
<text transform="translate(197.97 307.9) rotate(-90) scale(0.92 1)" text-anchor="end" font-size="7.2">Feb 2023</text>
<text transform="translate(209.65 307.9) rotate(-90) scale(0.92 1)" text-anchor="end" font-size="7.2">Mar 2023</text>
<text transform="translate(221.32 307.9) rotate(-90) scale(0.92 1)" text-anchor="end" font-size="7.2">Apr 2023</text>
<text transform="translate(233.00 307.9) rotate(-90) scale(0.92 1)" text-anchor="end" font-size="7.2">May 2023</text>
<text transform="translate(244.68 307.9) rotate(-90) scale(0.92 1)" text-anchor="end" font-size="7.2">Jun 2023</text>
<text transform="translate(256.35 307.9) rotate(-90) scale(0.92 1)" text-anchor="end" font-size="7.2">Jul 2023</text>
<text transform="translate(268.02 307.9) rotate(-90) scale(0.92 1)" text-anchor="end" font-size="7.2">Aug 2023</text>
<text transform="translate(279.70 307.9) rotate(-90) scale(0.92 1)" text-anchor="end" font-size="7.2">Sep 2023</text>
<text transform="translate(291.38 307.9) rotate(-90) scale(0.92 1)" text-anchor="end" font-size="7.2">Oct 2023</text>
<text transform="translate(303.05 307.9) rotate(-90) scale(0.92 1)" text-anchor="end" font-size="7.2">Nov 2023</text>
<text transform="translate(314.73 307.9) rotate(-90) scale(0.92 1)" text-anchor="end" font-size="7.2">Dec 2023</text>
<text transform="translate(326.40 307.9) rotate(-90) scale(0.92 1)" text-anchor="end" font-size="7.2">Jan 2024</text>
<text transform="translate(338.07 307.9) rotate(-90) scale(0.92 1)" text-anchor="end" font-size="7.2">Feb 2024</text>
<text transform="translate(349.75 307.9) rotate(-90) scale(0.92 1)" text-anchor="end" font-size="7.2">Mar 2024</text>
<text transform="translate(361.43 307.9) rotate(-90) scale(0.92 1)" text-anchor="end" font-size="7.2">Apr 2024</text>
<text transform="translate(373.10 307.9) rotate(-90) scale(0.92 1)" text-anchor="end" font-size="7.2">May 2024</text>
<text transform="translate(384.78 307.9) rotate(-90) scale(0.92 1)" text-anchor="end" font-size="7.2">Jun 2024</text>
<text transform="translate(396.45 307.9) rotate(-90) scale(0.92 1)" text-anchor="end" font-size="7.2">Jul 2024</text>
<text transform="translate(408.12 307.9) rotate(-90) scale(0.92 1)" text-anchor="end" font-size="7.2">Aug 2024</text>
<text transform="translate(419.80 307.9) rotate(-90) scale(0.92 1)" text-anchor="end" font-size="7.2">Sep 2024</text>
<text transform="translate(431.48 307.9) rotate(-90) scale(0.92 1)" text-anchor="end" font-size="7.2">Oct 2024</text>
<text transform="translate(443.15 307.9) rotate(-90) scale(0.92 1)" text-anchor="end" font-size="7.2">Nov 2024</text>
<text transform="translate(454.82 307.9) rotate(-90) scale(0.92 1)" text-anchor="end" font-size="7.2">Dec 2024</text>
<text transform="translate(466.50 307.9) rotate(-90) scale(0.92 1)" text-anchor="end" font-size="7.2">Jan 2025</text>
<text transform="translate(478.18 307.9) rotate(-90) scale(0.92 1)" text-anchor="end" font-size="7.2">Feb 2025</text>
<text transform="translate(489.85 307.9) rotate(-90) scale(0.92 1)" text-anchor="end" font-size="7.2">Mar 2025</text>
<text transform="translate(501.53 307.9) rotate(-90) scale(0.92 1)" text-anchor="end" font-size="7.2">Apr 2025</text>
<text transform="translate(513.20 307.9) rotate(-90) scale(0.92 1)" text-anchor="end" font-size="7.2">May 2025</text>
<text transform="translate(524.88 307.9) rotate(-90) scale(0.92 1)" text-anchor="end" font-size="7.2">Jun 2025</text>
<text transform="translate(536.55 307.9) rotate(-90) scale(0.92 1)" text-anchor="end" font-size="7.2">Jul 2025</text>
<text transform="translate(548.23 307.9) rotate(-90) scale(0.92 1)" text-anchor="end" font-size="7.2">Aug 2025</text>
<text transform="translate(559.90 307.9) rotate(-90) scale(0.92 1)" text-anchor="end" font-size="7.2">Sep 2025</text>
<text transform="translate(571.58 307.9) rotate(-90) scale(0.92 1)" text-anchor="end" font-size="7.2">Oct 2025</text>
<text transform="translate(583.25 307.9) rotate(-90) scale(0.92 1)" text-anchor="end" font-size="7.2">Nov 2025</text>
<text transform="translate(594.93 307.9) rotate(-90) scale(0.92 1)" text-anchor="end" font-size="7.2">Dec 2025</text>
<text transform="translate(606.60 307.9) rotate(-90) scale(0.92 1)" text-anchor="end" font-size="7.2">Jan 2026</text>
</g>
<g font-family="'Liberation Sans',sans-serif" font-size="6.6" fill="#fff">
<rect x="113.0" y="356" width="17.0" height="5" fill="#92d050"/>
<text x="131.5" y="361" textLength="35.5" lengthAdjust="spacingAndGlyphs">Middle East</text>
<rect x="177.0" y="356" width="17.0" height="5" fill="#ffff00"/>
<text x="195.5" y="361" textLength="41.5" lengthAdjust="spacingAndGlyphs">Latin America</text>
<rect x="246.0" y="356" width="18.0" height="5" fill="#7030a0"/>
<text x="265.0" y="361" textLength="12.5" lengthAdjust="spacingAndGlyphs">Asia</text>
<rect x="287.5" y="357.3" width="16.5" height="2.6" fill="#3a66c8"/>
<text x="305.5" y="361" textLength="8.5" lengthAdjust="spacingAndGlyphs">EU</text>
<rect x="324.0" y="356" width="16.0" height="5" fill="#ffc000"/>
<text x="341.5" y="361" textLength="9.5" lengthAdjust="spacingAndGlyphs">CIS</text>
<rect x="361.5" y="356" width="16.5" height="5" fill="#0870c0"/>
<text x="379.5" y="361" textLength="18.0" lengthAdjust="spacingAndGlyphs">Africa</text>
<rect x="406.7" y="356" width="15.7" height="5" fill="#ff44ff"/>
<text x="424.0" y="361" textLength="23.0" lengthAdjust="spacingAndGlyphs">Canada</text>
<rect x="456.8" y="356" width="16.2" height="5" fill="#fa0000"/>
<text x="474.5" y="361" textLength="12.5" lengthAdjust="spacingAndGlyphs">USA</text>
<rect x="498.0" y="356.8" width="15.0" height="3.6" fill="#6a6a6a"/>
<text x="515.0" y="361" textLength="44.0" lengthAdjust="spacingAndGlyphs">Miscellaneous</text>
<rect x="568" y="357.4" width="18" height="2.4" fill="#fff"/>
<text x="586" y="361" textLength="20" lengthAdjust="spacingAndGlyphs">Russia</text>
</g>
<text x="108.2" y="37.4" font-family="'Liberation Sans',sans-serif" font-size="16.4" fill="#fff" textLength="463" lengthAdjust="spacingAndGlyphs">Share of Russian oil in India's crude imports fell to the lowest since Oct 2022</text>
<text x="27.5" y="382.3" font-family="'Liberation Sans',sans-serif" font-size="6.6" fill="#fff" textLength="69" lengthAdjust="spacingAndGlyphs">Source: Trade, Industry</text>
</svg>
<div class="cap">Импорт нефти в Индию</div>
<div class="hlb" style="left:8px;top:724.4px;width:583.4px;height:21.5px"></div>
<div class="hlb" style="left:8px;top:745.8px;width:569.1px;height:21.5px"></div>
<div class="hlb" style="left:8px;top:767.2px;width:281px;height:20.4px"></div>
<span class="s" style="left:8.00px;top:426.50px;letter-spacing:-0.010px">Министерство нефти и Министерство иностранных дел Индии не ответили на электронные</span>
<span class="s" style="left:8.00px;top:447.90px;letter-spacing:-0.042px">письма агентства Reuters с просьбой прокомментировать ситуацию. Белый дом и Министерство</span>
<span class="s" style="left:8.00px;top:469.30px;letter-spacing:-0.048px">финансов США также не сразу ответили на запросы о комментариях.</span>
<span class="s" style="left:8.00px;top:500.80px;letter-spacing:0.056px">Государственная нефтеперерабатывающая компания</span>
<span class="s" style="left:366.40px;top:500.80px;transform:scaleX(0.9401)">Indian Oil Corp</span>
<a class="s a" style="left:458.40px;top:500.80px;transform:scaleX(0.8964)">(IOC.NS)</a>
<span class="s" style="left:525.90px;top:500.80px;letter-spacing:-0.169px">, Бхарат</span>
<span class="s" style="left:8.00px;top:522.20px;letter-spacing:0.044px">Петролеум Корп</span>
<a class="s a" style="left:118.40px;top:522.20px;transform:scaleX(0.8955)">(BPCL.NS)</a>
<span class="s" style="left:197.00px;top:522.20px;transform:scaleX(0.9522)">Hindustan Petroleum Corp</span>
<a class="s a" style="left:357.50px;top:522.20px;transform:scaleX(0.9012)">(HPCL.NS)</a>
<span class="s" style="left:436.40px;top:522.20px;transform:scaleX(0.9453)">и</span>
<span class="s" style="left:448.00px;top:522.20px;transform:scaleX(0.9436)">Mangalore Refinery and</span>
<span class="s" style="left:8.00px;top:543.60px;transform:scaleX(0.9499)">Petrochemicals Ltd</span>
<a class="s a" style="left:124.60px;top:543.60px;transform:scaleX(0.9125)">(MRPL.NS)</a>
<span class="s" style="left:206.70px;top:543.60px;letter-spacing:-0.080px">По данным источников Reuters, ведутся переговоры с</span>
<span class="s" style="left:8.00px;top:565.00px;letter-spacing:-0.061px">трейдерами о скорейшей доставке российских грузов.</span>
<span class="s" style="left:8.00px;top:596.50px;letter-spacing:0.020px">Один из источников сообщил, что индийские государственные нефтеперерабатывающие</span>
<span class="s" style="left:8.00px;top:617.90px;letter-spacing:-0.008px">заводы на данный момент закупили у трейдеров около 20 миллионов баррелей российской</span>
<span class="s" style="left:8.00px;top:639.30px;transform:scaleX(0.9719)">нефти.</span>
<span class="s" style="left:8.00px;top:670.80px;letter-spacing:0.003px">Согласно данным, полученным из отраслевых источников,</span>
<span class="s" style="left:396.50px;top:670.80px;transform:scaleX(0.8539)">HPCL</span>
<span class="s" style="left:432.50px;top:670.80px;transform:scaleX(0.9453)">и</span>
<span class="s" style="left:444.00px;top:670.80px;transform:scaleX(0.8662)">MRPL</span>
<span class="s" style="left:482.00px;top:670.80px;letter-spacing:-0.015px">в последний раз</span>
<span class="s" style="left:8.00px;top:692.20px;letter-spacing:0.008px">получали российскую нефть в ноябре.</span>
<span class="s" style="left:8.00px;top:724.10px;letter-spacing:-0.022px">По словам трех источников, трейдеры продают российскую нефть марки</span>
<span class="s" style="left:488.00px;top:724.10px;transform:scaleX(0.8601)">Urals</span>
<span class="s" style="left:520.90px;top:724.10px;letter-spacing:0.062px">в Индию с</span>
<span class="s" style="left:8.00px;top:745.50px;letter-spacing:-0.014px">премией в 4-5 долларов за баррель по сравнению с нефтью марки</span>
<span class="s" style="left:449.30px;top:745.50px;transform:scaleX(0.8336)">Brent</span>
<span class="s" style="left:481.60px;top:745.50px;letter-spacing:0.004px">с доставкой в</span>
<span class="s" style="left:8.00px;top:766.90px;letter-spacing:-0.095px">индийские порты в марте и начале апреля.</span>
<svg class="ext" style="left:512.8px;top:507.8px" width="10" height="10" viewBox="0 0 10 10"><path d="M3.8 0.5H1.6Q0.4 0.5 0.4 1.7V8.2Q0.4 9.4 1.6 9.4H8.2Q9.4 9.4 9.4 8.2V5.8M5.7 0.5H9.4V4.2M9.4 0.5L5.1 4.8" fill="none" stroke="#505050" stroke-width="1"/></svg>
<svg class="ext" style="left:183.5px;top:529.2px" width="10" height="10" viewBox="0 0 10 10"><path d="M3.8 0.5H1.6Q0.4 0.5 0.4 1.7V8.2Q0.4 9.4 1.6 9.4H8.2Q9.4 9.4 9.4 8.2V5.8M5.7 0.5H9.4V4.2M9.4 0.5L5.1 4.8" fill="none" stroke="#505050" stroke-width="1"/></svg>
<svg class="ext" style="left:423.8px;top:529.2px" width="10" height="10" viewBox="0 0 10 10"><path d="M3.8 0.5H1.6Q0.4 0.5 0.4 1.7V8.2Q0.4 9.4 1.6 9.4H8.2Q9.4 9.4 9.4 8.2V5.8M5.7 0.5H9.4V4.2M9.4 0.5L5.1 4.8" fill="none" stroke="#505050" stroke-width="1"/></svg>
<svg class="ext" style="left:193.6px;top:550.6px" width="10" height="10" viewBox="0 0 10 10"><path d="M3.8 0.5H1.6Q0.4 0.5 0.4 1.7V8.2Q0.4 9.4 1.6 9.4H8.2Q9.4 9.4 9.4 8.2V5.8M5.7 0.5H9.4V4.2M9.4 0.5L5.1 4.8" fill="none" stroke="#505050" stroke-width="1"/></svg>
</body>
</html>
